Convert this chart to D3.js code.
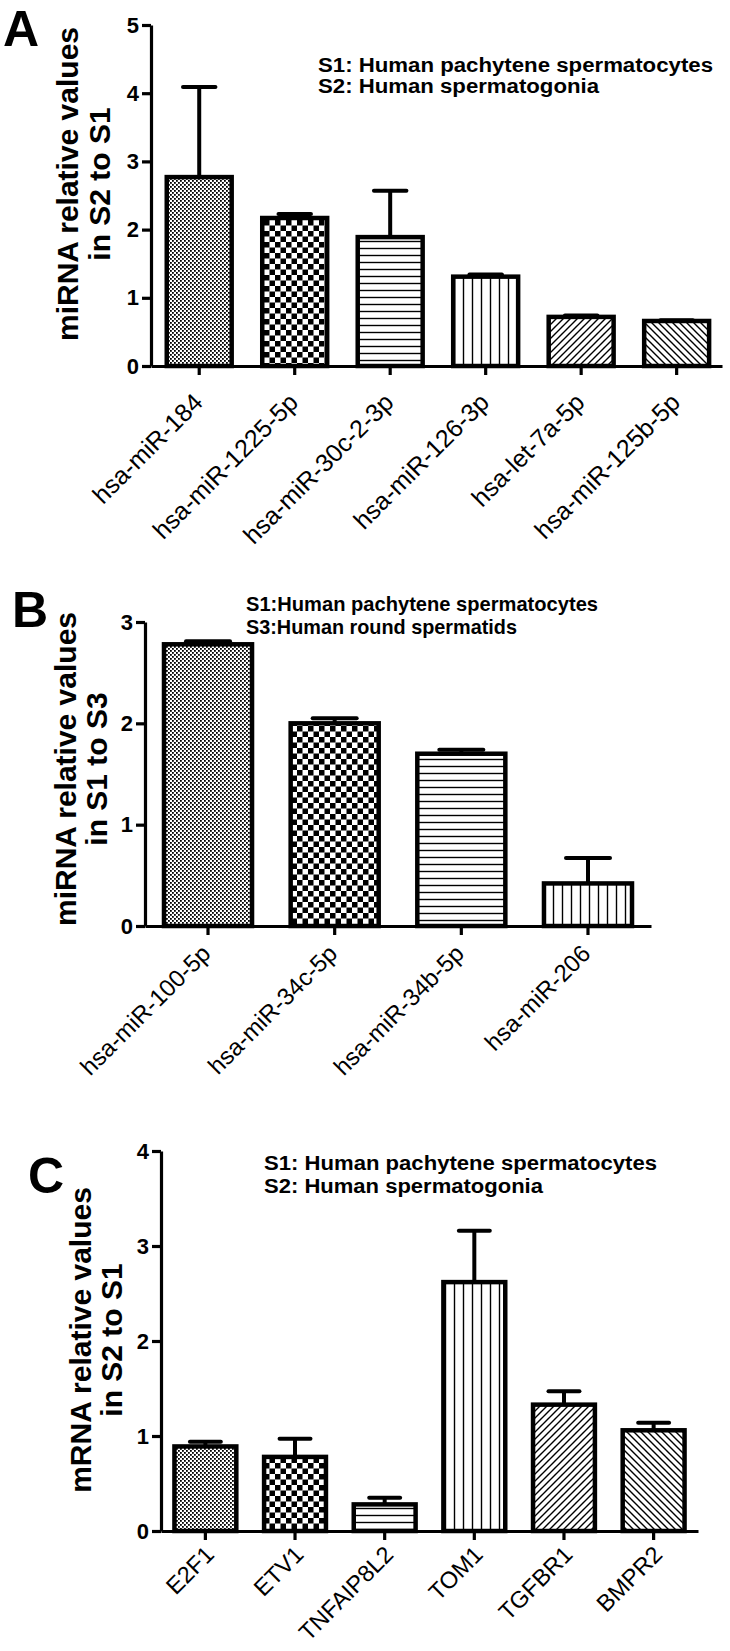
<!DOCTYPE html>
<html>
<head>
<meta charset="utf-8">
<script src="https://cdn.jsdelivr.net/npm/d3@7"></script>
<style>
  body { margin: 0; background: #fff; }
  svg { display: block; }
  text { font-family: "Liberation Sans", Arial, sans-serif; fill: #000; }
</style>
</head>
<body>
<script>
// panel A: miRNA, S2 vs S1
const catsA = ['hsa-miR-184', 'hsa-miR-1225-5p', 'hsa-miR-30c-2-3p', 'hsa-miR-126-3p', 'hsa-let-7a-5p', 'hsa-miR-125b-5p'];
const meanA = [2.77, 2.17, 1.89, 1.31, 0.72, 0.66];
const semA  = [1.32, 0.06, 0.68, 0.03, 0.02, 0.01];
const ticksA = [0, 1, 2, 3, 4, 5];
const legendA = ['S1: Human pachytene spermatocytes', 'S2: Human spermatogonia'];

// panel B: miRNA, S1 vs S3
const catsB = ['hsa-miR-100-5p', 'hsa-miR-34c-5p', 'hsa-miR-34b-5p', 'hsa-miR-206'];
const meanB = [2.78, 2.00, 1.70, 0.42];
const semB  = [0.03, 0.05, 0.04, 0.25];
const ticksB = [0, 1, 2, 3];
const legendB = ['S1:Human pachytene spermatocytes', 'S3:Human round spermatids'];

// panel C: mRNA, S2 vs S1
const catsC = ['E2F1', 'ETV1', 'TNFAIP8L2', 'TOM1', 'TGFBR1', 'BMPR2'];
const meanC = [0.89, 0.78, 0.28, 2.62, 1.33, 1.06];
const semC  = [0.05, 0.19, 0.07, 0.54, 0.14, 0.08];
const ticksC = [0, 1, 2, 3, 4];
const legendC = ['S1: Human pachytene spermatocytes', 'S2: Human spermatogonia'];

const fills = ['fine', 'checker', 'hlines', 'vlines', 'diagUp', 'diagDown'];

const svg = d3.select('body').append('svg')
    .attr('width', 730)
    .attr('height', 1651);

// hatch patterns like the old GraphPad fills
const defs = svg.append('defs');
function pat(id, w, h) {
    return defs.append('pattern').attr('id', id)
        .attr('patternUnits', 'userSpaceOnUse')
        .attr('width', w).attr('height', h);
}
let p = pat('fine', 4, 4);
p.append('rect').attr('width', 4).attr('height', 4).attr('fill', '#fff');
p.append('rect').attr('width', 1.8).attr('height', 1.8).attr('fill', '#000');
p.append('rect').attr('x', 2).attr('y', 2).attr('width', 1.8).attr('height', 1.8).attr('fill', '#000');

p = pat('checker', 11, 11);
p.append('rect').attr('width', 11).attr('height', 11).attr('fill', '#fff');
p.append('rect').attr('width', 5.5).attr('height', 5.5).attr('fill', '#000');
p.append('rect').attr('x', 5.5).attr('y', 5.5).attr('width', 5.5).attr('height', 5.5).attr('fill', '#000');

p = pat('hlines', 10, 7);
p.append('rect').attr('width', 10).attr('height', 7).attr('fill', '#fff');
p.append('line').attr('x1', 0).attr('x2', 10).attr('y1', 3.5).attr('y2', 3.5).attr('stroke', '#000').attr('stroke-width', 1.4);

p = pat('vlines', 9, 10);
p.append('rect').attr('width', 9).attr('height', 10).attr('fill', '#fff');
p.append('line').attr('x1', 4.5).attr('x2', 4.5).attr('y1', 0).attr('y2', 10).attr('stroke', '#000').attr('stroke-width', 1.4);

p = pat('diagUp', 7, 7);
p.append('rect').attr('width', 7).attr('height', 7).attr('fill', '#fff');
p.append('path').attr('d', 'M0,7L7,0M-1,1L1,-1M6,8L8,6').attr('stroke', '#000').attr('stroke-width', 1.4);

p = pat('diagDown', 7, 7);
p.append('rect').attr('width', 7).attr('height', 7).attr('fill', '#fff');
p.append('path').attr('d', 'M0,0L7,7M-1,6L1,8M6,-1L8,1').attr('stroke', '#000').attr('stroke-width', 1.4);

function drawPanel(o) {
    const g = svg.append('g');
    const x = d3.scaleBand().domain(o.cats)
        .range([o.x0, o.x1])
        .paddingInner(o.pi).paddingOuter(o.po).align(o.align);
    const y = d3.scaleLinear().domain([0, d3.max(o.ticks)]).range([o.y0, o.yTop]);
    const bw = x.bandwidth();
    const data = o.cats.map((c, i) => ({ c, v: o.mean[i], e: o.sem[i], f: fills[i] }));

    // error bars (upper only)
    g.selectAll('.err').data(data).join('line')
        .attr('x1', d => x(d.c) + bw / 2).attr('x2', d => x(d.c) + bw / 2)
        .attr('y1', d => y(d.v)).attr('y2', d => y(d.v + d.e))
        .attr('stroke', '#000').attr('stroke-width', 4);
    g.selectAll('.cap').data(data).join('line')
        .attr('x1', d => x(d.c) + bw / 4).attr('x2', d => x(d.c) + bw * 3 / 4)
        .attr('y1', d => y(d.v + d.e)).attr('y2', d => y(d.v + d.e))
        .attr('stroke', '#000').attr('stroke-width', 4).attr('stroke-linecap', 'round');

    g.selectAll('.bar').data(data).join('rect')
        .attr('x', d => x(d.c)).attr('y', d => y(d.v))
        .attr('width', bw).attr('height', d => y(0) - y(d.v))
        .attr('fill', d => `url(#${d.f})`)
        .attr('stroke', '#000').attr('stroke-width', 4.5);

    const yAx = g.append('g').attr('transform', `translate(${o.x0},0)`)
        .call(d3.axisLeft(y).tickValues(o.ticks).tickSize(9).tickSizeOuter(0).tickPadding(3).tickFormat(d3.format('d')));
    const xAx = g.append('g').attr('transform', `translate(0,${o.y0})`)
        .call(d3.axisBottom(x).tickSize(9).tickSizeOuter(0).tickFormat(''));
    [yAx, xAx].forEach(a => {
        a.selectAll('path, line').attr('stroke', '#000').attr('stroke-width', 3.2);
    });
    yAx.selectAll('text').style('font-size', '22px').style('font-weight', 'bold')
        .style('font-family', '"Liberation Sans", Arial, sans-serif').attr('fill', '#000');

    // rotated category labels
    g.selectAll('.xl').data(o.cats).join('text')
        .attr('transform', d => `translate(${x(d) + bw / 2 + o.lx},${o.ly}) rotate(-45)`)
        .attr('text-anchor', 'end')
        .style('font-size', o.lfs + 'px')
        .text(d => d);

    // y title, two lines
    o.title.forEach((t, i) => {
        g.append('text')
            .attr('transform', `translate(${o.tx[i]},${o.ty}) rotate(-90)`)
            .attr('text-anchor', 'middle')
            .style('font-size', '30px').style('font-weight', 'bold')
            .text(t);
    });

    o.legend.forEach((t, i) => {
        g.append('text')
            .attr('x', o.legX).attr('y', o.legY[i])
            .attr('textLength', o.legW[i]).attr('lengthAdjust', 'spacingAndGlyphs')
            .style('font-size', o.legFs + 'px').style('font-weight', 'bold')
            .text(t);
    });

    g.append('text').attr('x', o.letter[0]).attr('y', o.letter[1])
        .style('font-size', '50px').style('font-weight', 'bold')
        .text(o.name);
}

drawPanel({
    name: 'A', cats: catsA, mean: meanA, sem: semA, ticks: ticksA, legend: legendA,
    x0: 151, x1: 722, pi: 0.32, po: 0.15, align: 0.55, y0: 366, yTop: 25,
    lx: 5, ly: 404, lfs: 25,
    title: ['miRNA relative values', 'in S2 to S1'], tx: [78, 110], ty: 184,
    legX: 318, legY: [72, 93], legW: [395, 281], legFs: 20,
    letter: [3, 46]
});

drawPanel({
    name: 'B', cats: catsB, mean: meanB, sem: semB, ticks: ticksB, legend: legendB,
    x0: 145, x1: 651, pi: 0.305, po: 0.15, align: 0.5, y0: 926, yTop: 622,
    lx: 4, ly: 955, lfs: 24,
    title: ['miRNA relative values', 'in S1 to S3'], tx: [76, 107], ty: 769,
    legX: 246, legY: [611, 634], legW: [352, 271], legFs: 21,
    letter: [12, 627]
});

drawPanel({
    name: 'C', cats: catsC, mean: meanC, sem: semC, ticks: ticksC, legend: legendC,
    x0: 161, x1: 698, pi: 0.31, po: 0.15, align: 0.5, y0: 1531, yTop: 1151,
    lx: 10, ly: 1556, lfs: 23.5,
    title: ['mRNA relative values', 'in S2 to S1'], tx: [91, 122], ty: 1340,
    legX: 264, legY: [1170, 1193], legW: [393, 279], legFs: 20,
    letter: [28, 1193]
});
</script>
</body>
</html>
